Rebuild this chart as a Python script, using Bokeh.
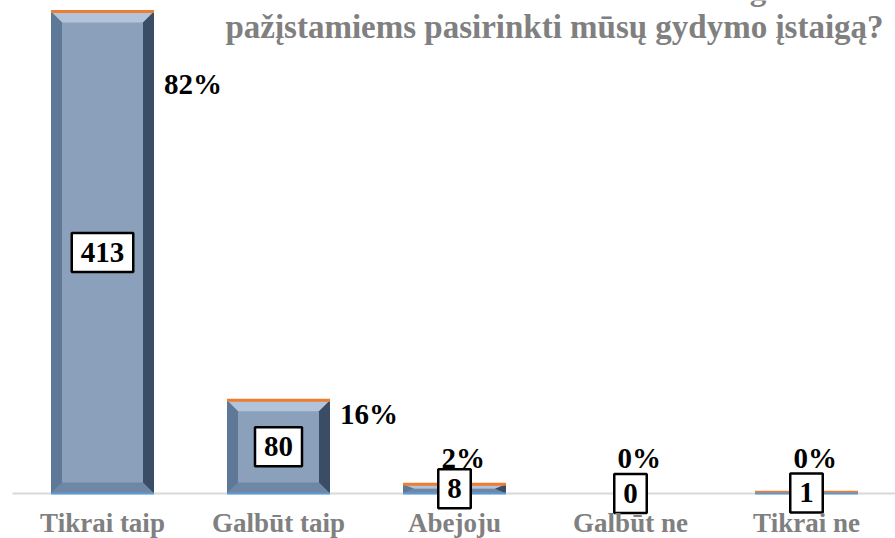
from bokeh.plotting import figure
from bokeh.models import Range1d
from bokeh.core.properties import value
from bokeh.embed import file_html
from bokeh.resources import INLINE

categories = ["Tikrai taip", "Galbūt taip", "Abejoju", "Galbūt ne", "Tikrai ne"]
counts = [413, 80, 8, 0, 1]
pct_labels = ["82%", "16%", "2%", "0%", "0%"]
title_lines = ["9. Ar rekomenduotumėte savo draugams ir",
               "pažįstamiems pasirinkti mūsų gydymo įstaigą?"]

W, H = 895, 538
PX_X = 176.0      # pixels per category
PX_Y = 1.167      # pixels per count unit
x_lo = -102 / PX_X
x_hi = x_lo + W / PX_X
y_lo = -45 / PX_Y
y_hi = y_lo + H / PX_Y

p = figure(width=W, height=H, output_backend="svg", toolbar_location=None,
           x_range=Range1d(x_lo, x_hi), y_range=Range1d(y_lo, y_hi),
           min_border=0, min_border_left=0, min_border_right=0,
           min_border_top=0, min_border_bottom=0)
p.axis.visible = False
p.grid.visible = False
p.outline_line_color = None
p.background_fill_color = "white"

FONT = value("Liberation Serif")
bw = 103 / PX_X
bx = 11 / PX_X
xs_idx = list(range(len(categories)))

# axis line
p.segment(x0=[x_lo + 12 / PX_X], y0=[0], x1=[x_hi], y1=[0], line_color="#d9d9d9", line_width=2)

# bars with bevel
x0s = [i - bw / 2 for i in xs_idx]
x1s = [i + bw / 2 for i in xs_idx]
p.quad(left=x0s, right=x1s, bottom=[0] * len(counts), top=counts,
       fill_color="#8aa0bb", line_color=None)

top_xs, top_ys, bot_xs, bot_ys, l_xs, l_ys, r_xs, r_ys = ([] for _ in range(8))
for i, c in zip(xs_idx, counts):
    if c <= 0:
        continue
    a, b = x0s[i], x1s[i]
    by = min(11 / PX_Y, c / 2)
    top_xs.append([a, b, b - bx, a + bx]); top_ys.append([c, c, c - by, c - by])
    bot_xs.append([a, b, b - bx, a + bx]); bot_ys.append([0, 0, by, by])
    l_xs.append([a, a, a + bx, a + bx]); l_ys.append([0, c, c - by, by])
    r_xs.append([b, b, b - bx, b - bx]); r_ys.append([0, c, c - by, by])
p.patches(xs=top_xs, ys=top_ys, fill_color="#b3c4da", line_color=None)
p.patches(xs=bot_xs, ys=bot_ys, fill_color="#6f87a5", line_color=None)
p.patches(xs=l_xs, ys=l_ys, fill_color="#5e7898", line_color=None)
p.patches(xs=r_xs, ys=r_ys, fill_color="#3b4d64", line_color=None)

pos_idx = [i for i, c in zip(xs_idx, counts) if c > 0]
p.segment(x0=[x0s[i] for i in pos_idx], x1=[x1s[i] for i in pos_idx],
          y0=[counts[i] for i in pos_idx], y1=[counts[i] for i in pos_idx],
          line_color="#ed7d31", line_width=3)
p.segment(x0=[x0s[i] for i in pos_idx], x1=[x1s[i] for i in pos_idx],
          y0=[0] * len(pos_idx), y1=[0] * len(pos_idx),
          line_color="#5b9bd5", line_width=2)

# value labels (boxed)
p.text(x=xs_idx, y=[c / 2 for c in counts], text=[str(c) for c in counts],
       text_font=FONT, text_font_style="bold", text_font_size="29px",
       text_color="black", text_align="center", text_baseline="middle",
       background_fill_color="white", border_line_color="black",
       border_line_width=2.5, padding=dict(left=9, right=9, top=10, bottom=10))

# percent labels
big = [i for i, c in enumerate(counts) if c >= 40]
small = [i for i, c in enumerate(counts) if c < 40]
p.text(x=[x1s[i] for i in big], y=[counts[i] * 0.85 for i in big],
       text=[pct_labels[i] for i in big], x_offset=10,
       text_font=FONT, text_font_style="bold", text_font_size="29px",
       text_color="black", text_align="left", text_baseline="middle")
p.text(x=[i + 0.05 for i in small], y=[30] * len(small),
       text=[pct_labels[i] for i in small],
       text_font=FONT, text_font_style="bold", text_font_size="29px",
       text_color="black", text_align="center", text_baseline="middle")

# category labels
p.text(x=xs_idx, y=[-25] * len(categories), text=categories,
       text_font=FONT, text_font_style="bold", text_font_size="27px",
       text_color="#808080", text_align="center", text_baseline="middle")

# title (top line cut at the top edge, as in the source)
p.text(x=[452 / PX_X] * 2, y=[505 / PX_Y, 467 / PX_Y], text=title_lines,
       text_font=FONT, text_font_style="bold", text_font_size="33px",
       text_color="#808080", text_align="center", text_baseline="middle")

open("out.html", "w").write(file_html(p, INLINE))
